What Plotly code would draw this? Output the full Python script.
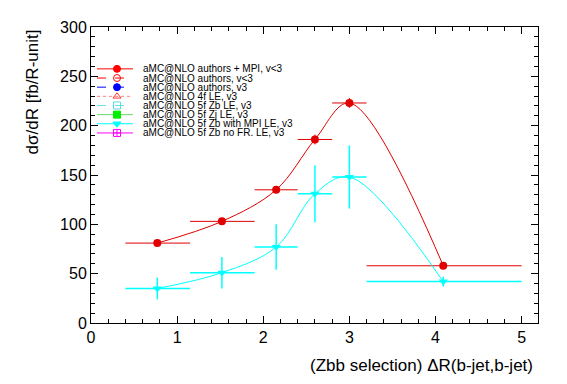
import plotly.graph_objects as go

# ---------------- data ----------------
bin_lo = [0.40, 1.15, 1.90, 2.40, 2.80, 3.20]
bin_hi = [1.15, 1.90, 2.40, 2.80, 3.20, 5.00]
x_pts = [0.77, 1.52, 2.15, 2.60, 3.00, 4.09]

red_y = [81, 103, 135, 186, 223, 58]
red_yerr = [2, 2, 3, 5, 5, 2]

cyan_y = [35, 51, 77, 131, 148, 42]
cyan_yerr = [11, 16, 23, 29, 32, 5]

legend_labels = [
    "aMC@NLO authors + MPI, v<3",
    "aMC@NLO authors, v<3",
    "aMC@NLO authors, v3",
    "aMC@NLO 4f LE, v3",
    "aMC@NLO 5f Zb LE, v3",
    "aMC@NLO 5f Zj LE, v3",
    "aMC@NLO 5f Zb with MPI LE, v3",
    "aMC@NLO 5f Zb no FR. LE, v3",
]
legend_line_colors = ["#ff0000", "#ff0000", "#0000ff", "#ff8080", "#66e0e0", "#66dd66", "#00ffff", "#ff00ff"]
legend_marker_colors = ["#ff0000", "#ff0000", "#0000ff", "#ff3333", "#55dddd", "#00ee00", "#00ffff", "#ff00ff"]
legend_dashes = ["solid", "dash", "dash", "dot", "dash", "solid", "solid", "solid"]
legend_symbols = ["circle", "circle-open", "circle", "triangle-up-open", "square-open",
                  "square", "triangle-down", "square-cross-open"]

FONT = "Liberation Sans, Arial, Helvetica, sans-serif"

fig = go.Figure()


def add_series(y, yerr, color, symbol, bar_w):
    fig.add_trace(go.Scatter(
        x=x_pts, y=y,
        mode="lines+markers",
        line=dict(color=color, width=1, shape="spline", smoothing=1.0),
        marker=dict(symbol=symbol, size=8, color=color, line=dict(width=0)),
        error_x=dict(type="data", symmetric=False,
                     array=[h - c for h, c in zip(bin_hi, x_pts)],
                     arrayminus=[c - l for l, c in zip(bin_lo, x_pts)],
                     color=color, thickness=bar_w, width=0),
        error_y=dict(type="data", array=yerr, color=color, thickness=bar_w, width=0),
        showlegend=False, hoverinfo="skip",
    ))


add_series(red_y, red_yerr, "#e00000", "circle", 1)
add_series(cyan_y, cyan_yerr, "#00ffff", "triangle-down", 1.5)

# ---------------- custom compact legend (overlay axes in pixel units) ----------------
row0, row_step = 43, 9.4
for i, lab in enumerate(legend_labels):
    yy = row0 + i * row_step
    fig.add_trace(go.Scatter(
        x=[6, 42], y=[yy, yy], xaxis="x2", yaxis="y2", mode="lines",
        line=dict(color=legend_line_colors[i], width=1, dash=legend_dashes[i]),
        showlegend=False, hoverinfo="skip"))
    fig.add_trace(go.Scatter(
        x=[26], y=[yy], xaxis="x2", yaxis="y2", mode="markers",
        marker=dict(symbol=legend_symbols[i], size=7, color=legend_marker_colors[i],
                    line=dict(width=1, color=legend_marker_colors[i])),
        showlegend=False, hoverinfo="skip"))
    fig.add_annotation(x=50, y=yy, xref="x2", yref="y2", text=lab, showarrow=False,
                       xanchor="left", yanchor="middle",
                       font=dict(family=FONT, size=10, color="black"))

axis_common = dict(showline=True, linecolor="black", linewidth=1, mirror="allticks",
                   showgrid=False, zeroline=False, ticks="inside", tickcolor="black",
                   ticklen=7, tickwidth=1,
                   tickfont=dict(family=FONT, size=16, color="black"))

# page body has an 8px margin, so the figure is sized/placed to compensate
fig.update_layout(
    width=559, height=376,
    margin=dict(l=83, r=29, t=11, b=61),
    paper_bgcolor="white", plot_bgcolor="white",
    font=dict(family=FONT, color="black"),
    xaxis=dict(range=[0, 5.19], tick0=0, dtick=1,
               minor=dict(dtick=0.2, ticks="inside", ticklen=4, tickcolor="black"),
               **axis_common),
    yaxis=dict(range=[0, 300], tick0=0, dtick=50,
               minor=dict(dtick=10, ticks="inside", ticklen=4, tickcolor="black"),
               **axis_common),
    xaxis2=dict(overlaying="x", anchor="y2", range=[0, 447], visible=False, fixedrange=True),
    yaxis2=dict(overlaying="y", anchor="x2", range=[304, 0], visible=False, fixedrange=True),
    showlegend=False,
)

fig.add_annotation(x=0.993, y=-0.145, xref="paper", yref="paper",
                   text="(Zbb selection) ΔR(b-jet,b-jet)", showarrow=False,
                   xanchor="right", yanchor="middle",
                   font=dict(family=FONT, size=17, color="black"))
fig.add_annotation(x=-0.13, y=1.0, xref="paper", yref="paper",
                   text="dσ/dR [fb/R-unit]", showarrow=False, textangle=-90,
                   xanchor="center", yanchor="top",
                   font=dict(family=FONT, size=17, color="black"))

fig.write_html("out.html")
